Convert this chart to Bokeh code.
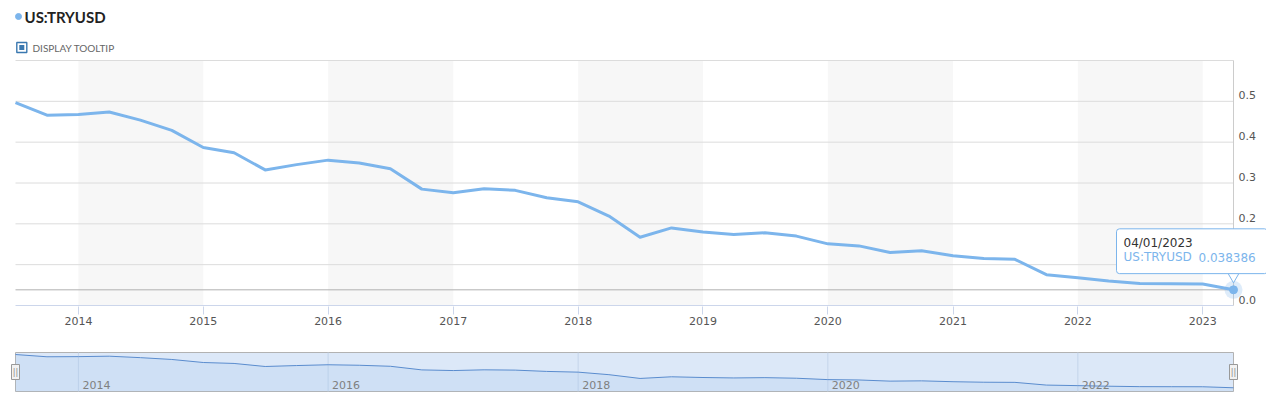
import pandas as pd
from bokeh.plotting import figure
from bokeh.layouts import column
from bokeh.models import (ColumnDataSource, Range1d, FixedTicker, DatetimeTickFormatter,
                          Label, BoxAnnotation)
from bokeh.core.properties import value
from bokeh.embed import file_html
from bokeh.resources import INLINE

# ---------------- data ----------------
series_name = "US:TRYUSD"
dates = [
    "2013-07-01", "2013-10-01",
    "2014-01-01", "2014-04-01", "2014-07-01", "2014-10-01",
    "2015-01-01", "2015-04-01", "2015-07-01", "2015-10-01",
    "2016-01-01", "2016-04-01", "2016-07-01", "2016-10-01",
    "2017-01-01", "2017-04-01", "2017-07-01", "2017-10-01",
    "2018-01-01", "2018-04-01", "2018-07-01", "2018-10-01",
    "2019-01-01", "2019-04-01", "2019-07-01", "2019-10-01",
    "2020-01-01", "2020-04-01", "2020-07-01", "2020-10-01",
    "2021-01-01", "2021-04-01", "2021-07-01", "2021-10-01",
    "2022-01-01", "2022-04-01", "2022-07-01", "2022-10-01",
    "2023-01-01", "2023-04-01",
]
values = [
    0.497, 0.466,
    0.468, 0.474, 0.454, 0.429,
    0.387, 0.374, 0.332, 0.345,
    0.356, 0.349, 0.335, 0.285,
    0.276, 0.286, 0.282, 0.264,
    0.254, 0.219, 0.167, 0.190,
    0.180, 0.174, 0.178, 0.170,
    0.151, 0.146, 0.130, 0.134,
    0.122, 0.115, 0.113, 0.0755,
    0.068, 0.060, 0.054, 0.053,
    0.0525, 0.038386,
]
x_tick_years = [2014, 2015, 2016, 2017, 2018, 2019, 2020, 2021, 2022, 2023]
y_tick_values = [0.0, 0.1, 0.2, 0.3, 0.4, 0.5]
y_grid_values = [0.1, 0.2, 0.3, 0.4, 0.5, 0.6]
band_years = [2014, 2016, 2018, 2020, 2022]
nav_label_years = [2014, 2016, 2018, 2020, 2022]
tooltip_date = "04/01/2023"
tooltip_value = "0.038386"

LINE = "#7cb5ec"
FONT = "DejaVu Sans"


def ms(year):
    return pd.Timestamp(year=year, month=1, day=1).timestamp() * 1000.0


x = pd.to_datetime(dates)
src = ColumnDataSource(dict(x=x, y=values))
t0_ms = x[0].timestamp() * 1000.0
t1_ms = x[-1].timestamp() * 1000.0
last_val = values[-1]

# ---------------- geometry (pixels) ----------------
W = 1266
FRAME_L = 8                        # both figures' frames start here (frames are aligned in a column)
PLOT_L, PLOT_R = 15, 1233          # data spans these pixel columns
Y_TOP = 0.6
TOP_PX, ZERO_PX = 60, 305          # pixel rows of Y_TOP and 0
mpp = (t1_ms - t0_ms) / (PLOT_R - PLOT_L)
upp = Y_TOP / (ZERO_PX - TOP_PX)


def px2x(px):
    return t0_ms + (px - PLOT_L) * mpp


def px2y(py):
    return (ZERO_PX - py) * upp


# ---------------- main chart (with header on top) ----------------
p = figure(width=W, height=340, x_axis_type="datetime", y_axis_location=None,
           x_range=Range1d(px2x(FRAME_L), px2x(W)), y_range=Range1d(px2y(306), px2y(0)),
           toolbar_location=None, output_backend="svg",
           min_border_left=FRAME_L, min_border_right=0, min_border_top=0, min_border_bottom=34)
p.outline_line_color = None
p.grid.visible = False

for yr in band_years:
    p.add_layout(BoxAnnotation(left=ms(yr), right=ms(yr + 1), bottom=0, top=Y_TOP,
                               fill_color="#f7f7f7", fill_alpha=1.0, line_color=None, level="image"))

# horizontal grid lines, x axis line, right axis line
n = len(y_grid_values)
p.segment(x0=[t0_ms] * n, y0=y_grid_values, x1=[t1_ms] * n, y1=y_grid_values,
          line_color="#dcdcdc", line_width=1)
p.segment(x0=[t0_ms], y0=[0], x1=[t1_ms], y1=[0], line_color="#ccd6eb", line_width=1)
p.segment(x0=[t1_ms], y0=[0], x1=[t1_ms], y1=[Y_TOP], line_color="#cccccc", line_width=1)

p.xaxis.ticker = FixedTicker(ticks=[ms(y) for y in x_tick_years])
p.xaxis.formatter = DatetimeTickFormatter(years="%Y", months="%Y", days="%Y", hours="%Y",
                                          minutes="%Y", seconds="%Y")
p.xaxis.axis_line_color = None
p.xaxis.major_tick_line_color = "#ccd6eb"
p.xaxis.major_tick_out = 8
p.xaxis.major_tick_in = 0
p.xaxis.minor_tick_line_color = None
p.xaxis.major_label_standoff = 2
p.xaxis.major_label_text_font = FONT
p.xaxis.major_label_text_font_size = "11px"
p.xaxis.major_label_text_color = "#555555"

# y labels on the right, sitting just above their grid lines
p.text(x=[t1_ms] * len(y_tick_values), y=y_tick_values, text=[f"{v:.1f}" for v in y_tick_values],
       x_offset=5, y_offset=-6, text_baseline="middle", text_align="left",
       text_font=value(FONT), text_font_size="11px", text_color="#555555")

# crosshair at hovered value
p.segment(x0=[t0_ms], y0=[last_val], x1=[t1_ms], y1=[last_val], line_color="#b0b0b0", line_width=1)

p.line("x", "y", source=src, line_color=LINE, line_width=3, line_join="round")

# hovered point
p.scatter(x=[t1_ms], y=[last_val], size=18, fill_color=LINE, fill_alpha=0.25, line_color=None)
p.scatter(x=[t1_ms], y=[last_val], size=8, fill_color=LINE, line_color=LINE)

# header
p.scatter(x=[px2x(18)], y=[px2y(16)], size=6, color=LINE)
p.text(x=[px2x(24)], y=[px2y(16.5)], text=[series_name], text_font=value("Lato"), text_font_size="15px",
       text_font_style="bold", text_baseline="middle", text_color="#222222")
p.rect(x=[px2x(21.3)], y=[px2y(47)], width=10, height=10, width_units="screen", height_units="screen",
       fill_color=None, line_color="#3a78b0", line_width=1.4)
p.rect(x=[px2x(21.3)], y=[px2y(47)], width=5, height=5, width_units="screen", height_units="screen",
       fill_color="#3a78b0", line_color=None)
p.text(x=[px2x(32)], y=[px2y(47.5)], text=["DISPLAY TOOLTIP"], text_font=value("Lato"),
       text_font_size="10px", text_baseline="middle", text_color="#666666")

# tooltip callout
p.scatter(x=[t1_ms], y=[px2y(276)], marker="inverted_triangle", size=11,
          fill_color="white", line_color=LINE, line_width=1)
p.add_layout(Label(x=t1_ms, y=last_val, text=tooltip_date + "\nUS:TRYUSD   " + tooltip_value,
                   text_color="white", text_font=FONT, text_font_size="12px",
                   text_align="left", text_baseline="top", x_offset=-117, y_offset=61,
                   background_fill_color="white", background_fill_alpha=1.0,
                   border_line_color=LINE, border_line_width=1, padding=7, border_radius=3))
p.add_layout(Label(x=t1_ms, y=last_val, text=tooltip_date, text_font=FONT, text_font_size="12px",
                   text_color="#333333", text_align="left", text_baseline="middle",
                   x_offset=-110, y_offset=46.6))
p.add_layout(Label(x=t1_ms, y=last_val, text=series_name, text_font=FONT, text_font_size="12px",
                   text_color=LINE, text_align="left", text_baseline="middle",
                   x_offset=-110, y_offset=32.6))
p.add_layout(Label(x=t1_ms, y=last_val, text=tooltip_value, text_font=FONT, text_font_size="12px",
                   text_color=LINE, text_align="left", text_baseline="middle",
                   x_offset=-35, y_offset=32.6))

# ---------------- navigator ----------------
nav_lo, nav_hi = -0.013, 0.525
upp_n = (nav_hi - nav_lo) / 39.0
nav = figure(width=W, height=56, x_axis_type="datetime",
             x_range=Range1d(px2x(FRAME_L), px2x(W)),
             y_range=Range1d(nav_lo - upp_n, nav_hi + upp_n),
             toolbar_location=None, output_backend="svg",
             min_border_left=FRAME_L, min_border_right=0, min_border_top=11, min_border_bottom=4,
             x_axis_location=None, y_axis_location=None)
nav.outline_line_color = None
nav.grid.visible = False
nav.quad(left=[t0_ms], right=[t1_ms], bottom=[nav_lo], top=[nav_hi],
         fill_color="#dce8f8", line_color="#b2b2b2", line_width=1)
nav_ticks = [ms(y) for y in nav_label_years]
nav.segment(x0=nav_ticks, y0=[nav_lo] * len(nav_ticks), x1=nav_ticks, y1=[nav_hi] * len(nav_ticks),
            line_color="#c4d4ea", line_width=1)
nav.varea(x="x", y1="y", y2=nav_lo, source=src, fill_color="#a9c6ec", fill_alpha=0.25)
nav.line("x", "y", source=src, line_color="#5a8cce", line_width=1)
nav.text(x=nav_ticks, y=[nav_lo] * len(nav_ticks),
         text=[str(y) for y in nav_label_years], x_offset=4, y_offset=-7,
         text_baseline="alphabetic", text_font=value(FONT), text_font_size="11px", text_color="#808080")
mid = (nav_lo + nav_hi) / 2
nav.rect(x=[t0_ms, t1_ms], y=[mid, mid], width=8, height=15, width_units="screen", height_units="screen",
         fill_color="#f2f2f2", line_color="#999999", line_width=1)
nav.text(x=[t0_ms, t1_ms], y=[mid, mid], text=["||", "||"], text_align="center", text_baseline="middle",
         text_font=value(FONT), text_font_size="8px", text_color="#888888")

layout = column(p, nav, spacing=0)
open("out.html", "w").write(file_html(layout, INLINE))
